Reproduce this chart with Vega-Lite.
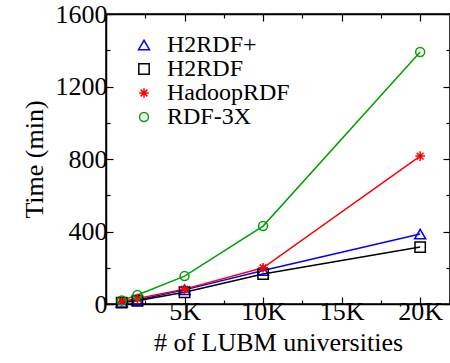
{
  "$schema": "https://vega.github.io/schema/vega-lite/v6.json",
  "autosize": "none",
  "width": 344,
  "height": 290,
  "padding": {"left": 106, "top": 14, "right": 0, "bottom": 59},
  "background": "white",
  "config": {
    "font": "Liberation Serif",
    "view": {"stroke": "black", "strokeWidth": 1.5},
    "axis": {"domainColor": "black", "domainWidth": 1.5, "tickColor": "black", "tickWidth": 1.2, "grid": false,
      "labelFont": "Liberation Serif", "labelFontSize": 26, "labelColor": "black",
      "titleFont": "Liberation Serif", "titleFontSize": 26, "titleFontWeight": "normal", "titleColor": "black"},
    "legend": {"labelFont": "Liberation Serif", "labelFontSize": 24, "labelColor": "black"}
  },
  "data": {"values": [
    {"n": 1000, "time": 10, "system": "H2RDF+"},
    {"n": 2000, "time": 22, "system": "H2RDF+"},
    {"n": 5000, "time": 78, "system": "H2RDF+"},
    {"n": 10000, "time": 185, "system": "H2RDF+"},
    {"n": 20000, "time": 386, "system": "H2RDF+"},
    {"n": 1000, "time": 8, "system": "H2RDF"},
    {"n": 2000, "time": 18, "system": "H2RDF"},
    {"n": 5000, "time": 65, "system": "H2RDF"},
    {"n": 10000, "time": 165, "system": "H2RDF"},
    {"n": 20000, "time": 314, "system": "H2RDF"},
    {"n": 1000, "time": 15, "system": "HadoopRDF"},
    {"n": 2000, "time": 30, "system": "HadoopRDF"},
    {"n": 5000, "time": 82, "system": "HadoopRDF"},
    {"n": 10000, "time": 200, "system": "HadoopRDF"},
    {"n": 20000, "time": 816, "system": "HadoopRDF"},
    {"n": 1000, "time": 20, "system": "RDF-3X"},
    {"n": 2000, "time": 50, "system": "RDF-3X"},
    {"n": 5000, "time": 154, "system": "RDF-3X"},
    {"n": 10000, "time": 430, "system": "RDF-3X"},
    {"n": 20000, "time": 1390, "system": "RDF-3X"}
  ]},
  "layer": [
    {
      "mark": {"type": "line", "strokeWidth": 1.5},
      "encoding": {
        "x": {"field": "n", "type": "quantitative", "scale": {"domain": [0, 21900], "nice": false, "zero": false},
          "axis": {"orient": "bottom", "title": "# of LUBM universities", "values": [0, 2500, 5000, 7500, 10000, 12500, 15000, 17500, 20000],
            "labelExpr": "datum.value % 5000 === 0 && datum.value > 0 ? (datum.value/1000) + 'K' : ''",
            "tickSize": {"condition": {"test": "datum.value % 5000 === 0", "value": -7}, "value": -4},
            "labelPadding": 1, "titlePadding": 5, "labelFlush": false}},
        "y": {"field": "time", "type": "quantitative", "scale": {"domain": [0, 1600], "nice": false},
          "axis": {"orient": "left", "title": "Time (min)", "values": [0, 200, 400, 600, 800, 1000, 1200, 1400, 1600],
            "format": "d",
            "labelExpr": "datum.value % 400 === 0 ? datum.label : ''",
            "tickSize": {"condition": {"test": "datum.value % 400 === 0", "value": -7}, "value": -4},
            "labelPadding": 6, "titlePadding": 8, "labelFlush": false}},
        "color": {"field": "system", "type": "nominal",
          "scale": {"domain": ["H2RDF+", "H2RDF", "HadoopRDF", "RDF-3X"], "range": ["#0000ff", "#000000", "#ff0000", "#00a000"]},
          "legend": {"orient": "none", "legendX": 26, "legendY": 19, "title": null, "padding": 0,
            "symbolSize": 100, "labelOffset": 11, "rowPadding": -2, "symbolStrokeWidth": 1.5}},
        "detail": {"field": "system"}
      }
    },
    {
      "mark": {"type": "point", "filled": false, "strokeWidth": 1.5, "opacity": 1},
      "encoding": {
        "x": {"field": "n", "type": "quantitative",
          "axis": {"orient": "top", "title": null, "values": [0, 2500, 5000, 7500, 10000, 12500, 15000, 17500, 20000], "labels": false,
            "tickSize": {"condition": {"test": "datum.value % 5000 === 0", "value": -7}, "value": -4}}},
        "y": {"field": "time", "type": "quantitative",
          "axis": {"orient": "right", "title": null, "values": [0, 200, 400, 600, 800, 1000, 1200, 1400, 1600], "labels": false,
            "tickSize": {"condition": {"test": "datum.value % 400 === 0", "value": -7}, "value": -4}}},
        "color": {"field": "system", "type": "nominal"},
        "shape": {"field": "system", "type": "nominal",
          "scale": {"domain": ["H2RDF+", "H2RDF", "HadoopRDF", "RDF-3X"], "range": ["triangle-up", "square", "M-1,0L1,0M0,-1L0,1M-0.7,-0.7L0.7,0.7M-0.7,0.7L0.7,-0.7", "circle"]},
          "legend": null},
        "size": {"field": "system", "type": "nominal",
          "scale": {"domain": ["H2RDF+", "H2RDF", "HadoopRDF", "RDF-3X"], "range": [120, 80, 110, 120]},
          "legend": null}
      }
    }
  ],
  "resolve": {"axis": {"x": "independent", "y": "independent"}}
}
